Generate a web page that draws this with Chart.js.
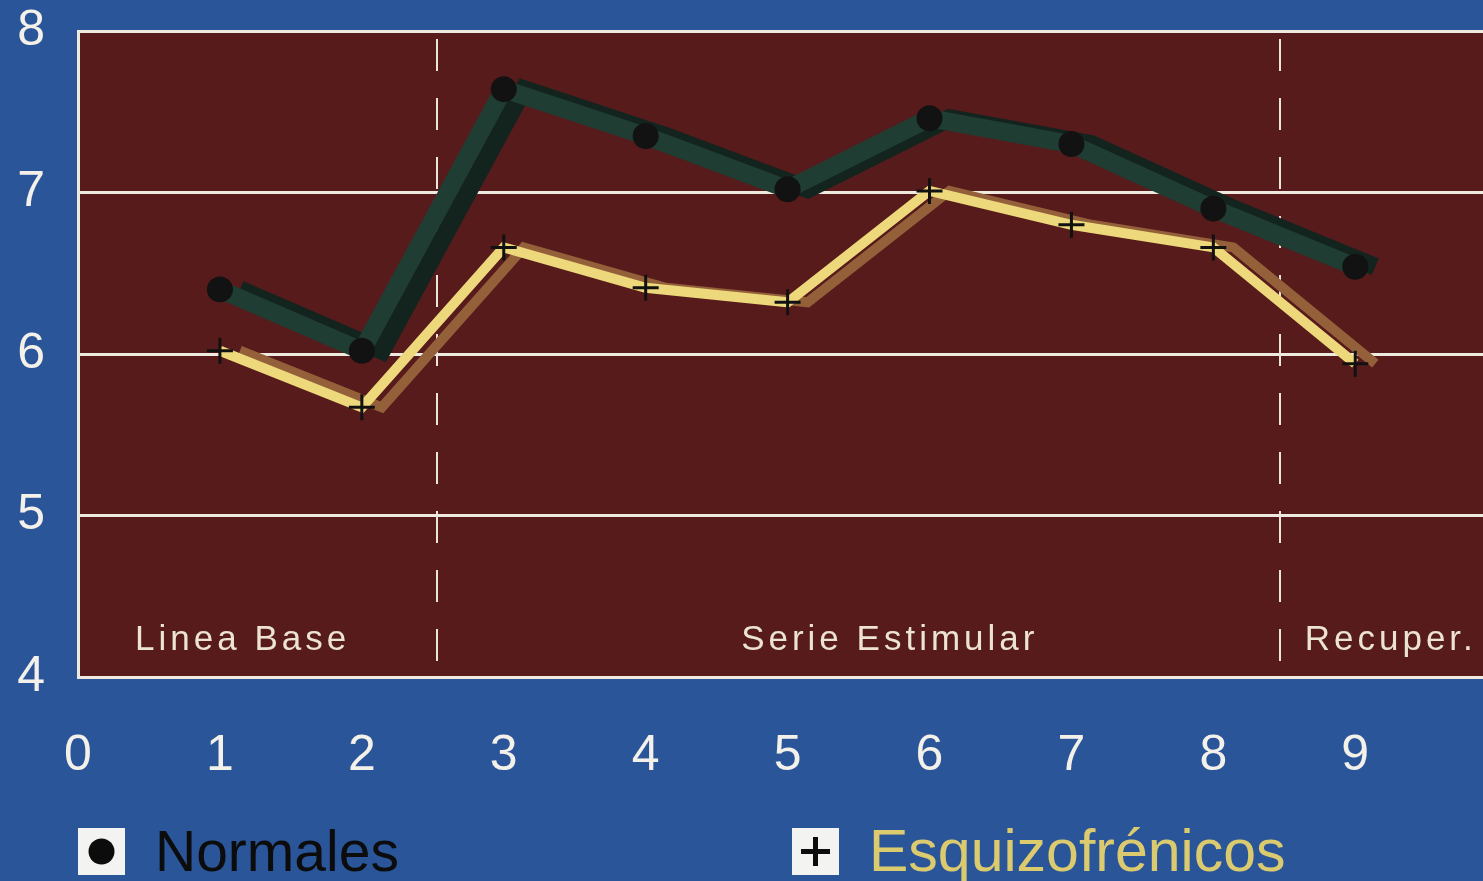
<!DOCTYPE html>
<html lang="es">
<head>
<meta charset="utf-8">
<script src="https://cdn.jsdelivr.net/npm/chart.js@4.4.1/dist/chart.umd.min.js"></script>
<style>
  html, body { margin: 0; padding: 0; background: #2a5699; }
  #wrap { position: relative; width: 1483px; height: 881px; overflow: hidden; background: #2a5699; }
  #chart { position: absolute; left: 0; top: -32px; }
  .legend { position: absolute; top: 828px; height: 47px; display: flex; align-items: center;
            font-family: "Liberation Sans", Arial, sans-serif; font-size: 57px; line-height: 1; }
  .legend svg { width: 47px; height: 47px; margin-right: 30px; flex: none; }
</style>
</head>
<body>
<div id="wrap">
  <canvas id="chart" width="1499" height="913"></canvas>
  <div class="legend" style="left:78px; color:#0c0c0c;">
    <svg viewBox="0 0 47 47"><rect width="47" height="47" fill="#f3f3f1"/><circle cx="23.5" cy="23.5" r="13" fill="#0c0c0c"/></svg>
    <span>Normales</span>
  </div>
  <div class="legend" style="left:792px; color:#dccb6e; font-size:59px;">
    <svg viewBox="0 0 47 47"><rect width="47" height="47" fill="#f3f3f1"/><path d="M23.5 9 V38 M9 23.5 H38" stroke="#0c0c0c" stroke-width="5"/></svg>
    <span>Esquizofrénicos</span>
  </div>
</div>
<script>
// Sessions (x) and mean values per group
const sesiones = [1, 2, 3, 4, 5, 6, 7, 8, 9];
const normales = [6.4, 6.02, 7.64, 7.35, 7.02, 7.46, 7.3, 6.9, 6.54];
const esquizofrenicos = [6.02, 5.67, 6.66, 6.41, 6.32, 7.01, 6.8, 6.66, 5.94];

// Phase separators and phase captions
const separadores = [2.53, 8.47];
const fases = ['Linea Base', 'Serie Estimular', 'Recuper.'];
const fasesX = [1.16, 5.72, 9.25];
const fasesY = 4.23;

// Axis ticks
const xTicks = [0, 1, 2, 3, 4, 5, 6, 7, 8, 9];
const yTicks = [4, 5, 6, 7, 8];

const toPoints = (vals) => vals.map((v, i) => ({ x: sesiones[i], y: v }));

const FONT = '"Liberation Sans", Arial, sans-serif';

// Maroon plot panel, dashed phase separators and phase captions
const panel = {
  id: 'panel',
  beforeDraw(chart) {
    const { ctx, chartArea: a } = chart;
    ctx.save();
    ctx.fillStyle = '#571b1c';
    ctx.fillRect(a.left, a.top, a.right - a.left, a.bottom - a.top);
    ctx.restore();
  },
  beforeDatasetsDraw(chart) {
    const { ctx, chartArea: a, scales } = chart;
    ctx.save();
    ctx.strokeStyle = '#ece5da';
    ctx.lineWidth = 2;
    ctx.setLineDash([32, 27]);
    separadores.forEach((v) => {
      const x = Math.round(scales.x.getPixelForValue(v));
      ctx.beginPath();
      ctx.moveTo(x, a.top + 8);
      ctx.lineTo(x, a.bottom);
      ctx.stroke();
    });
    ctx.restore();
    ctx.save();
    ctx.font = '35px ' + FONT;
    ctx.letterSpacing = '4px';
    ctx.fillStyle = '#ece3d3';
    ctx.textAlign = 'center';
    ctx.textBaseline = 'middle';
    fases.forEach((t, i) => {
      ctx.fillText(t, scales.x.getPixelForValue(fasesX[i]), scales.y.getPixelForValue(fasesY));
    });
    ctx.restore();
  }
};

// Offset copies of the lines give the ribbon shadow
const shadowShift = {
  id: 'shadowShift',
  beforeDatasetDraw(chart, args) {
    const ds = chart.data.datasets[args.index];
    if (ds.shift) { chart.ctx.save(); chart.ctx.translate(ds.shift, 0); }
  },
  afterDatasetDraw(chart, args) {
    const ds = chart.data.datasets[args.index];
    if (ds.shift) chart.ctx.restore();
  }
};

new Chart(document.getElementById('chart'), {
  type: 'line',
  data: {
    datasets: [
      {
        label: 'Esquizofrénicos',
        data: toPoints(esquizofrenicos),
        borderColor: '#eed87c',
        borderWidth: 10,
        pointStyle: 'cross',
        pointRadius: 13,
        pointBorderWidth: 3,
        pointBorderColor: '#111',
        pointBackgroundColor: '#111',
        borderJoinStyle: 'miter',
        order: 0
      },
      {
        label: 'Esquizofrénicos sombra',
        data: toPoints(esquizofrenicos),
        borderColor: '#93603a',
        borderWidth: 10,
        pointRadius: 0,
        shift: 20,
        order: 1
      },
      {
        label: 'Normales',
        data: toPoints(normales),
        borderColor: '#1f3d33',
        borderWidth: 18,
        pointStyle: 'circle',
        pointRadius: 13,
        pointBorderWidth: 0,
        pointBackgroundColor: '#121212',
        borderJoinStyle: 'miter',
        order: 2
      },
      {
        label: 'Normales sombra',
        data: toPoints(normales),
        borderColor: '#13241e',
        borderWidth: 18,
        pointRadius: 0,
        shift: 20,
        order: 3
      }
    ]
  },
  options: {
    responsive: false,
    animation: false,
    layout: { padding: 0 },
    plugins: { legend: { display: false }, tooltip: { enabled: false } },
    elements: { line: { tension: 0 } },
    scales: {
      x: {
        type: 'linear',
        min: 0,
        max: 9.9,
        afterFit(s) { s.height = 204; },
        afterBuildTicks(s) { s.ticks = xTicks.map((v) => ({ value: v })); },
        grid: { display: false, drawTicks: false },
        border: { display: false },
        ticks: { color: '#f4f0ea', font: { family: FONT, size: 50 }, padding: 49 }
      },
      y: {
        min: 4,
        max: 8,
        afterFit(s) { s.width = 78; },
        afterBuildTicks(s) { s.ticks = yTicks.map((v) => ({ value: v })); },
        grid: { color: '#efeadf', lineWidth: 3, drawTicks: false },
        border: { display: true, color: '#efeadf', width: 3 },
        ticks: { color: '#f4f0ea', font: { family: FONT, size: 50 }, padding: 33 }
      }
    }
  },
  plugins: [panel, shadowShift]
});
</script>
</body>
</html>
